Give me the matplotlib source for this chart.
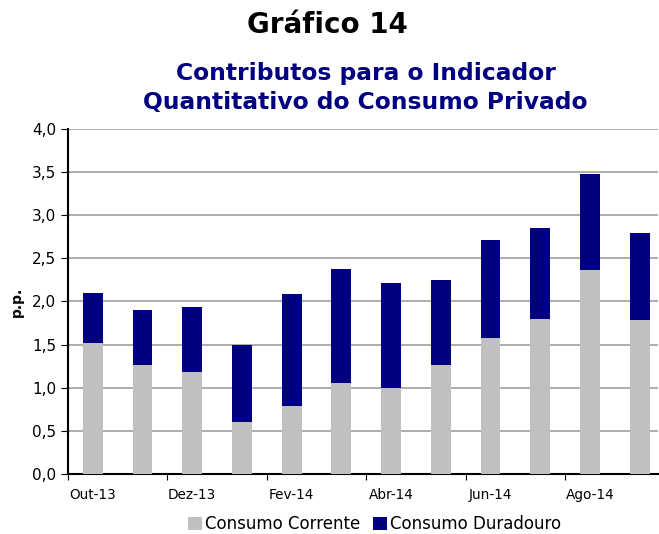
import numpy as np
import matplotlib
matplotlib.use("Agg")
import matplotlib.pyplot as plt
from matplotlib.ticker import FixedLocator, FuncFormatter

months = ["Out-13", "Nov-13", "Dez-13", "Jan-14", "Fev-14", "Mar-14",
          "Abr-14", "Mai-14", "Jun-14", "Jul-14", "Ago-14", "Set-14"]
corrente = [1.52, 1.26, 1.18, 0.60, 0.79, 1.05, 1.00, 1.26, 1.58, 1.80, 2.36, 1.78]
duradouro = [0.58, 0.64, 0.76, 0.90, 1.30, 1.33, 1.22, 0.99, 1.13, 1.05, 1.12, 1.01]

navy = "#000080"
grey = "#c0c0c0"

plt.rcParams['font.family'] = ['DejaVu Sans']

fig = plt.figure(figsize=(6.59, 5.34), dpi=100)
ax = fig.add_axes([0.103, 0.1124, 0.8955, 0.646])

x = np.arange(len(months))
ax.bar(x, corrente, width=0.4, color=grey, label="Consumo Corrente", zorder=3)
ax.bar(x, duradouro, width=0.4, bottom=corrente, color=navy, label="Consumo Duradouro", zorder=3)

ax.set_ylim(0, 4.0)
ax.set_xlim(-0.5, 11.37)
ax.set_yticks(np.arange(0, 4.01, 0.5))
ax.yaxis.set_major_formatter(FuncFormatter(lambda v, p: f"{v:.1f}".replace(".", ",")))
ax.yaxis.grid(True, color="#a0a0a0", linewidth=1.2, zorder=0)
ax.tick_params(axis="y", labelsize=11, length=5, direction="out")

# tick marks between categories, labels on every other bar
ax.xaxis.set_major_locator(FixedLocator(np.arange(-0.5, 11.6, 2)))
ax.xaxis.set_major_formatter(FuncFormatter(lambda v, p: ""))
ax.xaxis.set_minor_locator(FixedLocator(x[::2]))
ax.set_xticklabels(months[::2], minor=True)
ax.tick_params(axis="x", which="major", length=4, direction="out")
ax.tick_params(axis="x", which="minor", length=0, labelsize=9.8, pad=10)

for s in ["top", "right"]:
    ax.spines[s].set_visible(False)
ax.spines["left"].set_linewidth(1.5)
ax.spines["bottom"].set_linewidth(1.5)

ax.set_ylabel("p.p.", fontsize=10, fontweight="bold", labelpad=6)

fig.text(0.497, 0.953, "Gráfico 14", ha="center", va="center",
         fontsize=20, fontweight="bold", color="black")
fig.text(0.555, 0.835, "Contributos para o Indicador\nQuantitativo do Consumo Privado",
         ha="center", va="center", fontsize=16.8, fontweight="bold", color=navy,
         linespacing=1.35)

ax.legend(loc="center", bbox_to_anchor=(0.52, -0.145), ncol=2, frameon=False,
          fontsize=12, handlelength=0.8, handleheight=0.8, handletextpad=0.2,
          columnspacing=0.8)

fig.savefig("out.png", dpi=100)
